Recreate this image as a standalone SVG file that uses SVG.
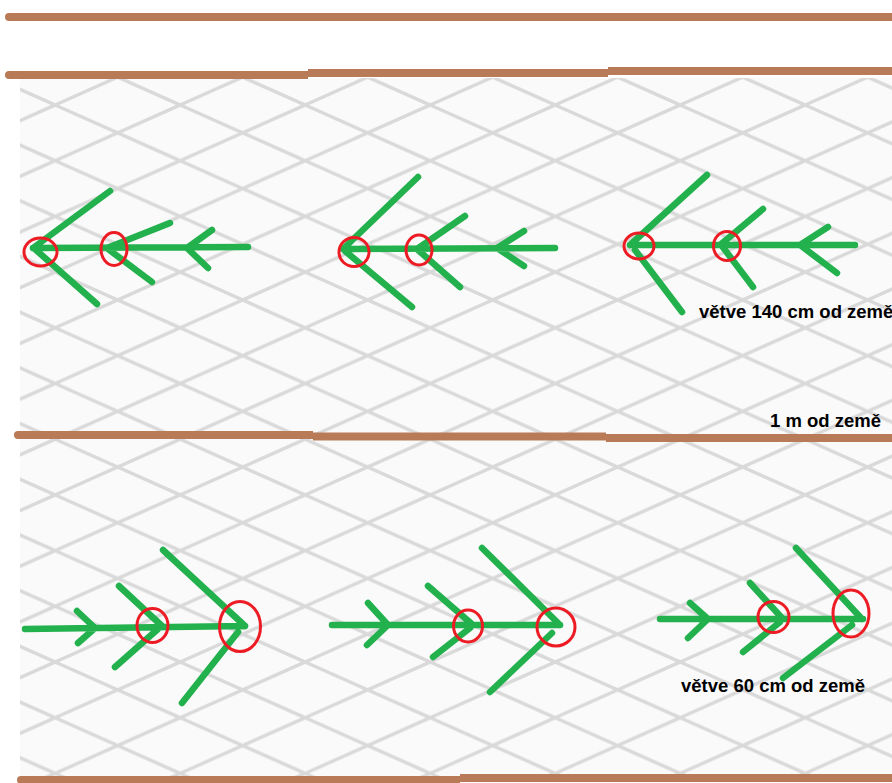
<svg xmlns="http://www.w3.org/2000/svg" width="892" height="783" viewBox="0 0 892 783">
<style>
.wire{stroke:#b97a57;stroke-width:8;fill:none;stroke-linecap:butt}
.br{stroke:#22b14c;stroke-width:6.5;fill:none;stroke-linecap:round;stroke-linejoin:round}
.ring{stroke:#ed1c24;stroke-width:3;fill:none}
.lbl{font-family:"Liberation Sans",Arial,sans-serif;font-weight:bold;font-size:18.5px;fill:#000}
</style>
<defs>
<filter id="soft" x="0" y="0" width="1" height="1"><feGaussianBlur stdDeviation="0.7"/></filter>
<pattern id="mesh" patternUnits="userSpaceOnUse" x="55" y="105" width="125" height="55.7">
<path d="M-10,-60.16 L135,4.45 M-10,-4.46 L135,60.15 M-10,51.24 L135,115.85 M-10,4.46 L135,-60.15 M-10,60.16 L135,-4.45 M-10,115.86 L135,51.25" stroke="#d9d9d9" stroke-width="3.4" fill="none"/>
</pattern>
</defs>
<rect width="892" height="783" fill="#ffffff"/>
<rect id="net" x="20" y="78" width="872" height="700" fill="#fafafa"/>
<rect x="20" y="78" width="872" height="700" fill="url(#mesh)" filter="url(#soft)"/>
<g id="wires">
<path class="wire" d="M9,17 L892,17"/>
<circle cx="9" cy="17" r="4" fill="#b97a57"/>
<path class="wire" d="M9,75 L308,75"/>
<circle cx="9" cy="75" r="4" fill="#b97a57"/>
<path class="wire" d="M308,73 L608,73"/>
<path class="wire" d="M608,71 L892,71"/>
<path class="wire" d="M18,435 L313,435"/>
<circle cx="18" cy="435" r="4" fill="#b97a57"/>
<path class="wire" d="M313,436.5 L606,436.5"/>
<path class="wire" d="M606,438 L892,438"/>
<path class="wire" d="M21,780 L460,780"/>
<circle cx="21" cy="780" r="4" fill="#b97a57"/>
<path class="wire" d="M460,778 L892,778"/>
</g>
<g id="branch1">
<path class="br" d="M33,248 L248,247 M33,248 L110,191 M36,250 L97,304 M107,248 L170,223 M108,249 L152,282 M187,248 L212,230 M187,248 L208,268"/>
<ellipse class="ring" cx="40.5" cy="252" rx="16.5" ry="14"/>
<ellipse class="ring" cx="114" cy="249" rx="13" ry="16.5"/>
</g>
<g id="branch2">
<path class="br" d="M343,249 L555,248 M343,249 L418,177 M345,251 L412,307 M417,249 L465,216 M418,250 L460,287 M497,248 L524,231 M497,248 L524,266"/>
<ellipse class="ring" cx="354" cy="252" rx="15" ry="14.5"/>
<ellipse class="ring" cx="419" cy="250" rx="13" ry="15"/>
</g>
<g id="branch3">
<path class="br" d="M630,245 L855,245 M630,245 L707,175 M635,250 L682,312 M720,245 L763,209 M722,246 L753,287 M800,245 L828,227 M800,245 L837,273"/>
<ellipse class="ring" cx="639" cy="246" rx="15" ry="13"/>
<ellipse class="ring" cx="727" cy="246" rx="13.5" ry="14.5"/>
<text class="lbl" x="699" y="318">větve 140 cm od země</text>
</g>
<g id="label-1m">
<text class="lbl" x="770" y="427">1 m od země</text>
</g>
<g id="branch4">
<path class="br" d="M25,629 L245,626 M77,611 L95,628 L78,643 M119,586 L162,626 M115,667 L158,629 M163,550 L245,626 M182,703 L238,632"/>
<ellipse class="ring" cx="152.5" cy="625.5" rx="15.5" ry="17"/>
<ellipse class="ring" cx="240" cy="626.5" rx="20.5" ry="25"/>
</g>
<g id="branch5">
<path class="br" d="M332,625 L560,625 M368,603 L388,625 L367,645 M428,586 L473,625 M433,657 L470,628 M482,548 L560,625 M490,692 L552,633"/>
<ellipse class="ring" cx="468" cy="626" rx="14.5" ry="16"/>
<ellipse class="ring" cx="556" cy="627" rx="19" ry="19"/>
</g>
<g id="branch6">
<path class="br" d="M660,619 L863,619 M690,603 L708,619 L688,638 M750,583 L782,618 M743,652 L780,622 M796,548 L862,619 M783,678 L852,625"/>
<ellipse class="ring" cx="773.5" cy="617" rx="15.5" ry="15.5"/>
<ellipse class="ring" cx="851" cy="613.5" rx="18" ry="23.5"/>
<text class="lbl" x="681" y="692">větve 60 cm od země</text>
</g>
</svg>
